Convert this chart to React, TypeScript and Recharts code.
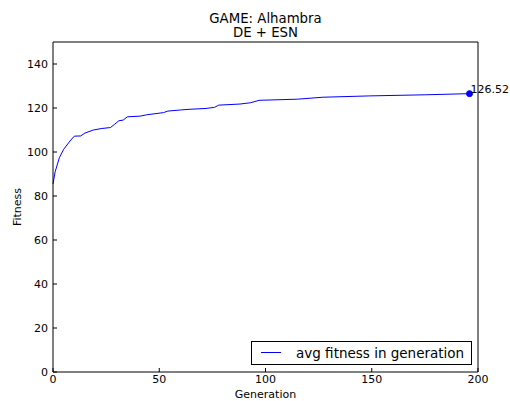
import React from "react";
import { Legend, Line, LineChart, XAxis, YAxis } from "recharts";

// values
const generations = [0, 1, 3, 5, 8, 10, 13, 15, 19, 23, 27, 29, 31, 33, 35, 41, 44, 52, 54, 60, 64, 72, 76, 78, 88, 93, 97, 115, 127, 149, 175, 196];
const fitness = [85.5, 91, 97.4, 101.2, 105, 107.2, 107.3, 108.6, 110, 110.7, 111.1, 112.6, 114.2, 114.5, 116, 116.3, 116.9, 117.9, 118.6, 119.1, 119.4, 119.8, 120.3, 121.3, 121.8, 122.4, 123.5, 124.0, 124.9, 125.5, 126.0, 126.52];
const xTicks = [0, 50, 100, 150, 200];
const yTicks = [0, 20, 40, 60, 80, 100, 120, 140];

const seriesName = "avg fitness in generation";
const lastLabel = "126.52";

const data = generations.map((g, i) => ({ gen: g, fitness: fitness[i] }));

const FONT = "'DejaVu Sans', sans-serif";
const BLUE = "#0000ff";
const tickStyle = { fill: "#000", fontSize: 11, fontFamily: FONT };

const renderDot = (props: any) => {
  const { cx, cy, index } = props;
  if (index !== data.length - 1) return <g key={`d${index}`} />;
  return (
    <g key={`d${index}`}>
      <circle cx={cx} cy={cy} r={3} fill={BLUE} stroke={BLUE} />
      <text x={cx + 1} y={cy - 1} fontSize={11} fontFamily={FONT} fill="#000">
        {lastLabel}
      </text>
    </g>
  );
};

const renderLegend = () => (
  <svg width={222} height={25}>
    <rect x={0.5} y={0.5} width={220} height={23} fill="#fff" stroke="#000" />
    <line x1={10} x2={30} y1={11.5} y2={11.5} stroke={BLUE} />
    <text x={45} y={16.5} fontSize={13.5} fontFamily={FONT} fill="#000">
      {seriesName}
    </text>
  </svg>
);

export default function App() {
  return (
    <div style={{ position: "absolute", left: 0, top: 0, width: 510, height: 401, background: "#fff" }}>
      <LineChart width={510} height={401} data={data} margin={{ top: 41, right: 31, bottom: 0, left: 0 }}>
        <XAxis
          dataKey="gen"
          type="number"
          domain={[0, 200]}
          ticks={xTicks}
          interval={0}
          height={29}
          tickSize={-4}
          tickMargin={7}
          stroke="#000"
          tick={tickStyle}
          label={{ value: "Generation", position: "insideBottom", offset: 3, fill: "#000", fontSize: 11, fontFamily: FONT }}
        />
        <XAxis
          xAxisId="top"
          dataKey="gen"
          orientation="top"
          type="number"
          domain={[0, 200]}
          ticks={xTicks}
          interval={0}
          height={1}
          tickSize={-4}
          stroke="#000"
          tick={false}
        />
        <YAxis
          type="number"
          domain={[0, 150]}
          ticks={yTicks}
          interval={0}
          width={53}
          tickSize={-4}
          tickMargin={9}
          stroke="#000"
          tick={tickStyle}
        />
        <YAxis
          yAxisId="right"
          orientation="right"
          type="number"
          domain={[0, 150]}
          ticks={yTicks}
          interval={0}
          width={1}
          tickSize={-4}
          stroke="#000"
          tick={false}
        />
        <Legend
          layout="vertical"
          align="center"
          verticalAlign="middle"
          content={renderLegend}
          wrapperStyle={{ left: 251, top: 341, width: 222, height: 25 }}
        />
        {/* invisible series so the top and right frame axes get drawn */}
        <Line
          xAxisId="top"
          yAxisId="right"
          type="linear"
          dataKey="fitness"
          stroke="none"
          dot={false}
          activeDot={false}
          legendType="none"
          isAnimationActive={false}
        />
        <Line
          type="linear"
          dataKey="fitness"
          name={seriesName}
          stroke={BLUE}
          strokeWidth={1}
          dot={renderDot}
          activeDot={false}
          isAnimationActive={false}
        />
      </LineChart>
      <svg width={510} height={401} style={{ position: "absolute", left: 0, top: 0, pointerEvents: "none" }}>
        <text x={265.5} y={23} textAnchor="middle" fontSize={13.3} fontFamily={FONT} fill="#000">
          GAME: Alhambra
        </text>
        <text x={265.5} y={37} textAnchor="middle" fontSize={13.3} fontFamily={FONT} fill="#000">
          DE + ESN
        </text>
        <text
          x={0}
          y={0}
          transform="translate(21 207) rotate(-90)"
          textAnchor="middle"
          fontSize={11}
          fontFamily={FONT}
          fill="#000"
        >
          Fitness
        </text>
      </svg>
    </div>
  );
}
